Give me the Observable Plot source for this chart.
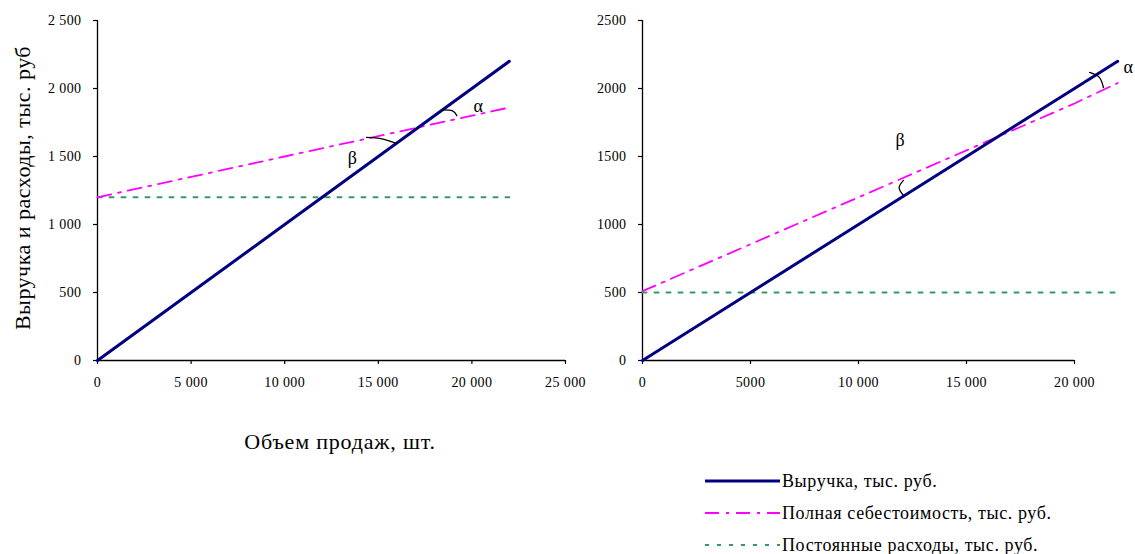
<!DOCTYPE html>
<html>
<head>
<meta charset="utf-8">
<script src="https://cdn.jsdelivr.net/npm/d3@7"></script>
<script src="https://cdn.jsdelivr.net/npm/@observablehq/plot@0.6"></script>
<style>
  body { margin: 0; background: #fff; }
  #wrap { position: relative; width: 1135px; height: 554px; overflow: hidden; font-family: "Liberation Serif", "Times New Roman", serif; color: #000; }
  .plot { position: absolute; top: 0; }
  .plot svg { overflow: visible; }
  #ytitle { position: absolute; left: 23px; top: 188px; transform: translate(-50%, -50%) rotate(-90deg); white-space: nowrap; font-size: 22px; letter-spacing: 0.5px; }
  #xtitle { position: absolute; left: 340px; top: 442px; transform: translate(-50%, -50%); white-space: nowrap; font-size: 22px; letter-spacing: 0.8px; }
  .leg { position: absolute; left: 705px; height: 20px; display: flex; align-items: center; font-size: 18px; letter-spacing: 0.6px; white-space: nowrap; }
  .leg svg { display: block; margin-right: 2px; }
</style>
</head>
<body>
<div id="wrap">
  <div id="left" class="plot" style="left:0px"></div>
  <div id="right" class="plot" style="left:592px"></div>
  <div id="ytitle"></div>
  <div id="xtitle"></div>
  <div id="legend"></div>
</div>
<script>
// ---- data ----
const volume = [0, 5000, 10000, 15000, 20000, 22000];
const revenue = [0, 500, 1000, 1500, 2000, 2200];
const leftFullCost = [1200, 1350, 1500, 1650, 1800, 1860];
const leftFixedCost = [1200, 1200, 1200, 1200, 1200, 1200];
const rightFullCost = [510, 855, 1200, 1545, 1890, 2040];
const rightFixedCost = [500, 500, 500, 500, 500, 500];

const yTicks = [0, 500, 1000, 1500, 2000, 2500];
const leftYLabels = ["0", "500", "1 000", "1 500", "2 000", "2 500"];
const rightYLabels = ["0", "500", "1000", "1500", "2000", "2500"];
const leftXTicks = [0, 5000, 10000, 15000, 20000, 25000];
const leftXLabels = ["0", "5 000", "10 000", "15 000", "20 000", "25 000"];
const rightXTicks = [0, 5000, 10000, 15000, 20000];
const rightXLabels = ["0", "5000", "10 000", "15 000", "20 000"];

const seriesNames = ["Выручка, тыс. руб.", "Полная себестоимость, тыс. руб.", "Постоянные расходы, тыс. руб."];
const yTitle = "Выручка и расходы, тыс. руб";
const xTitle = "Объем продаж, шт.";

// angle annotations (label positions and arc points, in data units)
const leftLabels = [{x: 13620, y: 1485, t: "β"}, {x: 20350, y: 1868, t: "α"}];
const leftArcs = [
  [[14370, 1640], [15200, 1630], [15970, 1596]],
  [[18400, 1842], [18960, 1836], [19200, 1800]]
];
const rightLabels = [{x: 11940, y: 1618, t: "β"}, {x: 22500, y: 2154, t: "α"}];
const rightArcs = [
  [[12080, 1324], [11880, 1270], [12080, 1213]],
  [[20700, 2118], [21150, 2082], [21340, 2007]]
];

const colors = {rev: "#000080", full: "#ff00ff", fixed: "#339966"};
const fullDash = "14,7,3,7";
const fixedDash = "4,8";

function rows(xs, ys) { return xs.map((x, i) => ({x, y: ys[i]})); }
function arcRows(arcs) { return arcs.flatMap((a, k) => a.map(([x, y]) => ({x, y, k}))); }

function chart(opts) {
  return Plot.plot({
    width: opts.width, height: 400,
    marginLeft: opts.ml, marginRight: opts.mr, marginTop: 20, marginBottom: 40,
    style: {fontFamily: "Liberation Serif, Times New Roman, serif", fontSize: "14px", letterSpacing: "0.4px", color: "#000", background: "transparent", overflow: "visible"},
    x: {domain: opts.xDomain},
    y: {domain: [0, 2500]},
    marks: [
      Plot.axisY({ticks: yTicks, tickFormat: d => opts.yLabels[yTicks.indexOf(d)], tickSize: 4, tickPadding: 12, label: null, strokeWidth: 1.2}),
      Plot.axisX({ticks: opts.xTicks, tickFormat: d => opts.xLabels[opts.xTicks.indexOf(d)], tickSize: 4, tickPadding: 13, label: null, strokeWidth: 1.2}),
      Plot.ruleX([0], {stroke: "#000", strokeWidth: 1.3}),
      Plot.ruleY([0], {stroke: "#000", strokeWidth: 1.3}),
      Plot.line(rows(volume, opts.fixed), {x: "x", y: "y", stroke: colors.fixed, strokeWidth: 2, strokeDasharray: fixedDash}),
      Plot.line(rows(volume, opts.full), {x: "x", y: "y", stroke: colors.full, strokeWidth: 1.8, strokeDasharray: fullDash}),
      Plot.line(rows(volume, revenue), {x: "x", y: "y", stroke: colors.rev, strokeWidth: 3}),
      Plot.line(arcRows(opts.arcs), {x: "x", y: "y", z: "k", stroke: "#000", strokeWidth: 1.3, curve: "natural"}),
      Plot.text(opts.labels, {x: "x", y: "y", text: "t", fontSize: 18, fill: "#000"})
    ]
  });
}

document.getElementById("left").appendChild(chart({
  width: 600, ml: 97, mr: 35, xDomain: [0, 25000],
  xTicks: leftXTicks, xLabels: leftXLabels, yLabels: leftYLabels,
  full: leftFullCost, fixed: leftFixedCost, arcs: leftArcs, labels: leftLabels
}));
document.getElementById("right").appendChild(chart({
  width: 543, ml: 50, mr: 61, xDomain: [0, 20000],
  xTicks: rightXTicks, xLabels: rightXLabels, yLabels: rightYLabels,
  full: rightFullCost, fixed: rightFixedCost, arcs: rightArcs, labels: rightLabels
}));

document.getElementById("ytitle").textContent = yTitle;
document.getElementById("xtitle").textContent = xTitle;

// legend
const legendStyles = [
  {stroke: colors.rev, w: 3, dash: null},
  {stroke: colors.full, w: 1.8, dash: fullDash},
  {stroke: colors.fixed, w: 2, dash: fixedDash}
];
const legendTops = [471, 503, 535];
const legend = document.getElementById("legend");
seriesNames.forEach((name, i) => {
  const row = document.createElement("div");
  row.className = "leg";
  row.style.top = legendTops[i] + "px";
  const s = legendStyles[i];
  row.innerHTML = `<svg width="75" height="10"><line x1="0" x2="75" y1="5" y2="5" stroke="${s.stroke}" stroke-width="${s.w}" ${s.dash ? `stroke-dasharray="${s.dash}"` : ""}/></svg>`;
  const span = document.createElement("span");
  span.textContent = name;
  row.appendChild(span);
  legend.appendChild(row);
});
</script>
</body>
</html>
